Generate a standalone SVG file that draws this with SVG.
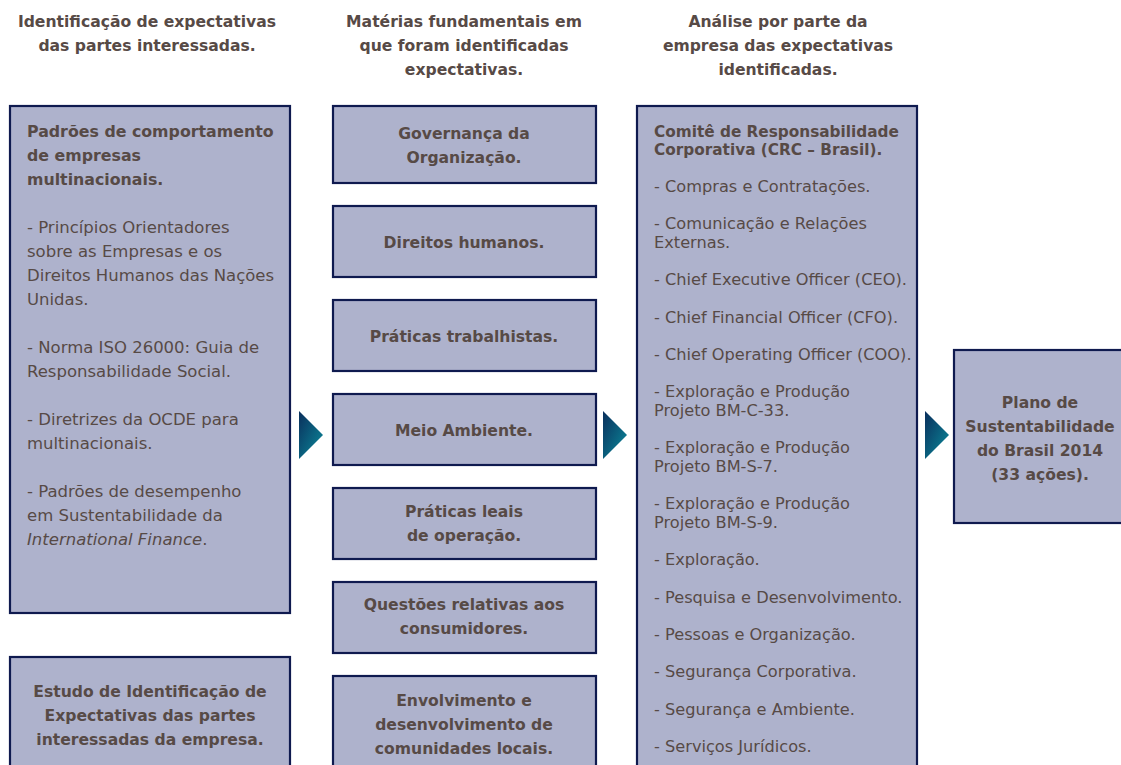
<svg xmlns="http://www.w3.org/2000/svg" width="1121" height="765" viewBox="0 0 1121 765">
<defs>
<linearGradient id="ag" x1="0" y1="0" x2="1" y2="1">
<stop offset="0" stop-color="#0a2f5c"/>
<stop offset="1" stop-color="#0b8c9c"/>
</linearGradient>
<style>
.box{fill:#aeb2cc;stroke:#0f1a4f;stroke-width:2.2}
text{font-family:"DejaVu Sans","Liberation Sans",sans-serif;fill:#574a46}
.h{font-weight:bold;font-size:15.6px;text-anchor:middle}
.b{font-weight:bold;font-size:15.8px}
.bc{font-weight:bold;font-size:15.6px;text-anchor:middle}
.r{font-size:16.5px}
.rr{font-size:16.2px}
.rb{font-weight:bold;font-size:15.3px}
.arr{fill:url(#ag)}
</style>
</defs>
<rect width="1121" height="765" fill="#ffffff"/>

<g id="headers">
<text class="h" x="147" y="27">Identificação de expectativas</text>
<text class="h" x="147" y="51">das partes interessadas.</text>
<text class="h" x="464" y="27">Matérias fundamentais em</text>
<text class="h" x="464" y="51">que foram identificadas</text>
<text class="h" x="464" y="75">expectativas.</text>
<text class="h" x="778" y="27">Análise por parte da</text>
<text class="h" x="778" y="51">empresa das expectativas</text>
<text class="h" x="778" y="75">identificadas.</text>
</g>

<g id="left1">
<rect class="box" x="10" y="106" width="280" height="507"/>
<text class="b" x="27" y="137">Padrões de comportamento</text>
<text class="b" x="27" y="161">de empresas</text>
<text class="b" x="27" y="185">multinacionais.</text>
<text class="r" x="27" y="233">- Princípios Orientadores</text>
<text class="r" x="27" y="257">sobre as Empresas e os</text>
<text class="r" x="27" y="281">Direitos Humanos das Nações</text>
<text class="r" x="27" y="305">Unidas.</text>
<text class="r" x="27" y="353">- Norma ISO 26000: Guia de</text>
<text class="r" x="27" y="377">Responsabilidade Social.</text>
<text class="r" x="27" y="425">- Diretrizes da OCDE para</text>
<text class="r" x="27" y="449">multinacionais.</text>
<text class="r" x="27" y="497">- Padrões de desempenho</text>
<text class="r" x="27" y="521">em Sustentabilidade da</text>
<text class="r" x="27" y="545"><tspan font-style="italic">International Finance</tspan>.</text>
</g>

<g id="left2">
<rect class="box" x="10" y="657" width="280" height="120"/>
<text class="bc" x="150" y="697">Estudo de Identificação de</text>
<text class="bc" x="150" y="721">Expectativas das partes</text>
<text class="bc" x="150" y="745">interessadas da empresa.</text>
</g>

<g id="m1">
<rect class="box" x="333" y="106" width="263" height="77"/>
<text class="bc" x="464" y="139">Governança da</text>
<text class="bc" x="464" y="163">Organização.</text>
</g>
<g id="m2">
<rect class="box" x="333" y="206" width="263" height="71"/>
<text class="bc" x="464" y="248">Direitos humanos.</text>
</g>
<g id="m3">
<rect class="box" x="333" y="300" width="263" height="71"/>
<text class="bc" x="464" y="342">Práticas trabalhistas.</text>
</g>
<g id="m4">
<rect class="box" x="333" y="394" width="263" height="71"/>
<text class="bc" x="464" y="436">Meio Ambiente.</text>
</g>
<g id="m5">
<rect class="box" x="333" y="488" width="263" height="71"/>
<text class="bc" x="464" y="517">Práticas leais</text>
<text class="bc" x="464" y="541">de operação.</text>
</g>
<g id="m6">
<rect class="box" x="333" y="582" width="263" height="71"/>
<text class="bc" x="464" y="610">Questões relativas aos</text>
<text class="bc" x="464" y="634">consumidores.</text>
</g>
<g id="m7">
<rect class="box" x="333" y="676" width="263" height="100"/>
<text class="bc" x="464" y="706">Envolvimento e</text>
<text class="bc" x="464" y="730">desenvolvimento de</text>
<text class="bc" x="464" y="754">comunidades locais.</text>
</g>

<g id="right">
<rect class="box" x="637" y="106" width="280" height="670"/>
<text class="rb" x="654" y="137">Comitê de Responsabilidade</text>
<text class="rb" x="654" y="155">Corporativa (CRC – Brasil).</text>
<text class="rr" x="654" y="192">- Compras e Contratações.</text>
<text class="rr" x="654" y="229">- Comunicação e Relações</text>
<text class="rr" x="654" y="248">Externas.</text>
<text class="rr" x="654" y="285">- Chief Executive Officer (CEO).</text>
<text class="rr" x="654" y="323">- Chief Financial Officer (CFO).</text>
<text class="rr" x="654" y="360">- Chief Operating Officer (COO).</text>
<text class="rr" x="654" y="397">- Exploração e Produção</text>
<text class="rr" x="654" y="416">Projeto BM-C-33.</text>
<text class="rr" x="654" y="453">- Exploração e Produção</text>
<text class="rr" x="654" y="472">Projeto BM-S-7.</text>
<text class="rr" x="654" y="509">- Exploração e Produção</text>
<text class="rr" x="654" y="528">Projeto BM-S-9.</text>
<text class="rr" x="654" y="565">- Exploração.</text>
<text class="rr" x="654" y="603">- Pesquisa e Desenvolvimento.</text>
<text class="rr" x="654" y="640">- Pessoas e Organização.</text>
<text class="rr" x="654" y="677">- Segurança Corporativa.</text>
<text class="rr" x="654" y="715">- Segurança e Ambiente.</text>
<text class="rr" x="654" y="752">- Serviços Jurídicos.</text>
</g>

<g id="final">
<rect class="box" x="954" y="350" width="180" height="173"/>
<text class="bc" x="1040" y="408">Plano de</text>
<text class="bc" x="1040" y="432">Sustentabilidade</text>
<text class="bc" x="1040" y="456">do Brasil 2014</text>
<text class="bc" x="1040" y="480">(33 ações).</text>
</g>

<g id="connectors">
<polygon class="arr" points="299,411 323,435 299,459"/>
<polygon class="arr" points="603,411 627,435 603,459"/>
<polygon class="arr" points="925,411 949,435 925,459"/>
</g>
</svg>
